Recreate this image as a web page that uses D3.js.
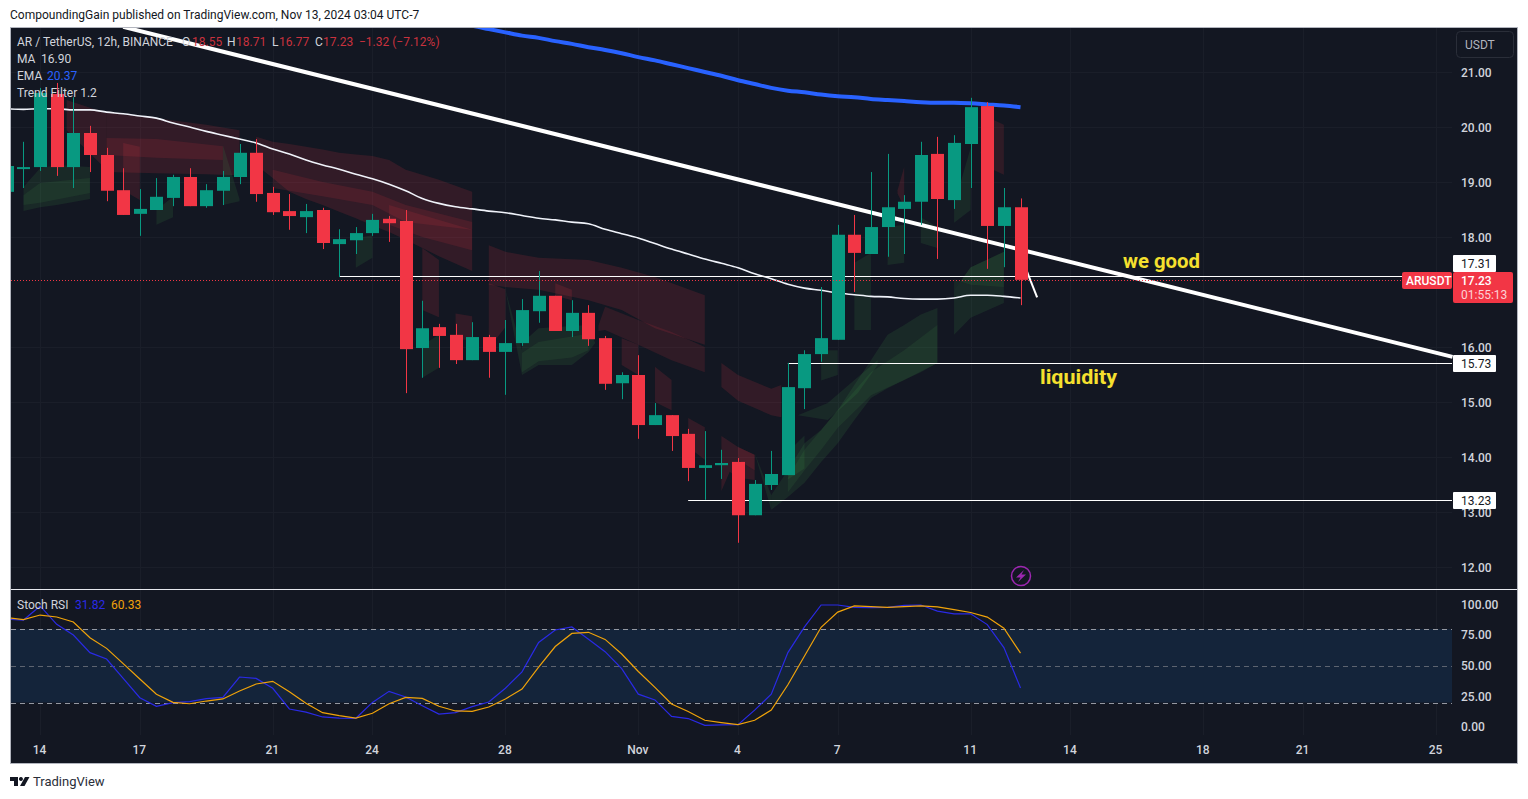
<!DOCTYPE html>
<html>
<head>
<meta charset="utf-8">
<style>
html,body{margin:0;padding:0;background:#fff;}
svg{display:block;}
text{font-family:Roboto,"Noto Sans",sans-serif;}
</style>
<script src="https://cdn.jsdelivr.net/npm/d3@7/dist/d3.min.js"></script>
</head>
<body>
<svg id="chart" width="1528" height="799"></svg>
<script>
// bar index 0 is the half hidden candle at the left edge, one bar = 12h
var opens  = [18.83,19.28,19.28,20.61,19.28,19.90,19.50,18.86,18.43,18.50,18.72,19.10,18.57,18.85,19.10,19.54,18.81,18.48,18.37,18.50,17.88,17.95,18.08,18.34,18.30,15.99,16.37,16.23,15.77,16.19,15.92,16.08,16.66,16.94,16.30,16.63,16.17,15.35,15.50,14.59,14.77,14.43,13.81,13.86,13.92,12.95,13.50,13.68,15.26,15.88,16.14,18.05,17.70,18.19,18.52,18.65,19.52,18.68,19.70,20.39,18.21,18.55]
var highs  = [19.35,19.74,20.72,20.81,20.55,20.03,19.63,19.26,18.88,19.08,19.14,19.26,18.97,19.21,19.70,19.79,18.92,18.79,18.61,18.54,18.15,18.19,18.43,18.39,18.50,16.85,16.43,16.43,16.46,16.23,16.50,16.88,17.39,16.94,16.86,16.77,16.21,15.55,15.86,14.99,14.77,14.52,14.48,14.14,13.99,13.59,14.12,15.72,15.95,17.10,18.23,18.41,19.19,19.52,18.77,19.74,19.83,19.86,20.54,20.46,18.90,18.71]
var lows   = [18.80,18.90,19.21,19.12,18.90,19.19,18.66,18.41,18.03,18.50,18.57,18.57,18.54,18.59,18.97,18.65,18.41,18.14,18.08,17.79,17.28,17.70,18.03,17.92,15.17,15.45,15.63,15.70,15.77,15.45,15.14,16.03,16.45,16.30,16.19,16.03,15.23,15.06,14.34,14.59,14.12,13.57,13.23,13.61,12.45,12.95,13.41,13.68,14.88,15.74,16.14,17.01,17.70,17.65,17.70,18.23,17.61,18.52,18.90,17.43,17.46,16.77]
var closes = [19.30,19.28,20.63,19.28,19.90,19.50,18.85,18.41,18.52,18.74,19.10,18.57,18.86,19.10,19.54,18.79,18.46,18.39,18.48,17.90,17.97,18.08,18.32,18.26,15.97,16.35,16.21,15.77,16.19,15.92,16.08,16.68,16.94,16.30,16.63,16.15,15.34,15.50,14.59,14.77,14.39,13.81,13.86,13.90,12.95,13.52,13.70,15.28,15.88,16.17,18.05,17.72,18.19,18.55,18.65,19.50,18.70,19.72,20.37,18.21,18.55,17.23]

var maValues = [20.34,20.33,20.34,20.34,20.32,20.32,20.28,20.25,20.21,20.17,20.08,20.01,19.93,19.86,19.79,19.72,19.61,19.52,19.41,19.32,19.24,19.15,19.07,18.97,18.85,18.71,18.62,18.56,18.52,18.48,18.45,18.40,18.35,18.32,18.28,18.25,18.15,18.07,17.99,17.89,17.79,17.70,17.61,17.53,17.45,17.34,17.25,17.15,17.08,17.04,16.99,16.96,16.93,16.92,16.89,16.88,16.88,16.90,16.95,16.95,16.93,16.90]
var emaStart = 27
var emaValues = [21.90,21.85,21.79,21.73,21.67,21.63,21.57,21.52,21.46,21.41,21.35,21.28,21.22,21.15,21.08,21.01,20.94,20.86,20.79,20.72,20.67,20.64,20.60,20.57,20.55,20.52,20.50,20.48,20.46,20.45,20.45,20.44,20.42,20.40,20.37]

var stochK = [87.9,87.3,98.8,83.8,75.1,60.7,55.5,39.7,23.9,16.9,19.9,20.7,23.1,24.2,40.8,39.7,31.6,14.7,12.2,8.2,7.3,7.1,20.1,29.1,24.5,17.4,10.6,11.7,16.6,20.4,31.6,45.0,69.0,79.2,81.7,71.7,61.5,47.7,26.8,22.1,8.6,6.9,1.4,1.7,1.9,13.8,26.8,60.7,81.7,99.6,99.6,97.7,97.4,97.7,99.3,99.6,94.6,92.4,92.4,83.6,64.8,31.82]
var stochD = [89.3,87.6,91.4,89.8,85.7,72.9,64.2,51.7,39.2,26.7,20.1,19.0,21.2,22.9,29.4,35.1,37.3,28.8,19.3,11.7,9.3,7.3,11.2,19.0,24.2,23.4,16.9,13.1,12.8,16.3,22.9,31.0,48.8,65.7,76.4,77.3,71.5,59.6,45.3,32.3,18.8,12.7,5.5,3.6,1.9,5.5,13.8,34.5,57.9,81.4,93.8,98.8,98.2,97.7,98.2,98.8,98.0,95.8,93.5,89.7,80.6,60.33]

var priceTicks = [12,13,14,15,16,18,19,20,21]
var stochTicks = [0,25,50,75,100]
var dateBars   = [2,8,16,22,30,38,44,50,58,64,72,78,86]
var dateLabels = ["14","17","21","24","28","Nov","4","7","11","14","18","21","25"]

// drawn levels: price, first bar
var levelPrices = [17.31,15.73,13.23]
var levelBars   = [20,47,41]
var trendBars   = [7,87]
var trendPrices = [21.83,15.83]
var arrowBars   = [61,62]
var arrowPrices = [17.68,16.91]

// trend filter ribbon, each row is bar, top, bottom
var redFaint = [
  [[3.6,20.50,19.95],[6,20.26,19.23]],
  [[6,20.28,19.19],[9,20.17,19.17],[12,20.05,19.15],[14,19.95,19.13]],
  [[7,19.72,18.86],[8,19.65,18.68]],
  [[15,19.83,19.32],[16,19.74,19.08],[17,19.70,18.83],[18,19.65,18.70],[19,19.60,18.59],[20,19.54,18.47],[21,19.51,18.35],[22,19.48,18.22],[23,19.41,18.10],[24,19.23,17.96],[26,19.05,17.66],[28,18.83,17.39]],
  [[25,17.81,16.68],[26,17.59,16.55]],
  [[27,16.62,16.14],[28,16.57,16.14]],
  [[29,17.86,17.14],[30,17.74,17.10],[32,17.63,17.05],[35,17.59,16.86],[37,17.45,16.68],[39,17.28,16.35],[42,16.95,16.05]],
  [[29,17.17,15.99],[30,17.06,16.37]],
  [[33,17.17,16.94],[34,17.05,16.86]],
  [[37,16.17,15.68],[38,16.05,15.50]],
  [[39,15.65,15.01],[40,15.41,14.86]],
  [[41,14.72,14.19],[42,14.55,13.96]],
  [[43,15.72,15.28],[44,15.50,15.03],[46,15.25,14.77],[46.6,15.32,14.73]],
  [[43,14.39,13.39],[43.5,14.29,13.74],[44,14.19,13.63],[45,14.05,13.59]],
  [[53.6,18.86,18.80],[54,19.28,18.55]]
]
var redStrong = [
  [[6,19.81,19.50],[9,19.79,19.45],[13,19.66,19.41]],
  [[16,19.23,18.90],[19,19.01,18.75],[22,18.83,18.59],[24,18.59,18.28],[28,18.28,18.14]],
  [[23,18.59,18.23],[25,18.41,18.01],[28,18.14,17.77]],
  [[35.6,16.40,16.30],[36,16.74,16.32],[38,16.50,16.05],[40,16.28,15.77],[42,16.01,15.55]],
  [[44,14.19,13.96],[45,14.05,13.77]],
  [[58.6,19.54,19.54],[59,20.19,19.28],[60,20.05,19.14]]
]
var greenFaint = [
  [[1,18.92,18.48],[2,19.26,18.55],[3,19.32,18.59],[5,19.28,18.70]],
  [[9,18.50,18.23],[10,18.74,18.37]],
  [[13,19.68,18.59],[14,18.70,18.66]],
  [[21,17.99,17.45],[22,18.04,17.63]],
  [[25,16.04,15.45],[26,16.23,15.63]],
  [[30,17.05,17.05],[31,15.95,15.50]],
  [[31,16.08,15.50],[32,16.35,15.68],[34,16.39,15.68],[35,16.41,15.92],[35.4,16.08,16.08]],
  [[45,14.08,14.08],[46,13.32,13.05]],
  [[46,13.32,13.05],[47,13.77,13.28],[48,14.26,13.54],[49,14.50,13.92],[50,14.86,14.26],[51,15.32,14.68],[52,15.77,15.08],[53,16.23,15.26],[54,16.41,15.41],[55,16.60,15.55],[56,16.72,15.72]],
  [[47.6,14.77,14.77],[49.4,14.99,14.68],[51.2,15.46,15.17],[52.4,15.77,15.68]],
  [[47,14.10,13.60],[48,14.40,13.80]],
  [[49,15.95,15.40],[50,15.95,15.50]],
  [[51,17.54,16.32],[52,17.72,16.32]],
  [[53,18.19,17.50],[54,18.23,17.54]],
  [[55,18.37,17.90],[56,18.19,17.81]],
  [[57,18.59,18.27],[58,19.63,18.50]],
  [[57,17.04,16.23],[58,17.46,16.54],[60,17.74,16.81]]
]
var greenStrong = [
  [[1,18.77,18.59],[2,18.99,18.63],[5,19.08,18.81]],
  [[31,15.90,15.55],[32,16.10,15.75],[34,16.20,15.82],[35,16.25,15.95]],
  [[47,13.63,13.37],[48,14.14,13.77],[49,14.50,14.14],[50,14.86,14.54],[52,15.55,15.13],[54,15.95,15.41],[56,16.41,15.72]],
  [[57,17.04,17.24],[58,17.46,17.14],[60,17.74,17.10]]
]

var up = "#089981", down = "#f23645", paneBg = "#131722", textCol = "#d1d4dc"
var bars = d3.range(opens.length)

var x = d3.scaleLinear().domain([0,87]).range([6.88,6.88+16.617*87])
var y = d3.scaleLinear().domain([12,21]).range([567.5,72.5])
var yStoch = d3.scaleLinear().domain([0,100]).range([727,604.5])

var svg = d3.select("#chart")

svg.append("text").attr("x",10).attr("y",19).attr("font-size",12).attr("fill","#131722")
  .text("CompoundingGain published on TradingView.com, Nov 13, 2024 03:04 UTC-7")

svg.append("rect").attr("x",10.5).attr("y",27.5).attr("width",1507).attr("height",736)
  .attr("fill",paneBg).attr("stroke","#b2b5be")

var defs = svg.append("defs")
defs.append("clipPath").attr("id","mainClip").append("rect").attr("x",11).attr("y",28).attr("width",1506).attr("height",561)
defs.append("clipPath").attr("id","stochClip").append("rect").attr("x",11).attr("y",590).attr("width",1441).attr("height",150)

var grid = svg.append("g").attr("stroke","#1a1e29").attr("stroke-width",1)
dateBars.forEach(function(b){
  grid.append("line").attr("x1",Math.round(x(b))+.5).attr("x2",Math.round(x(b))+.5).attr("y1",28).attr("y2",735)
})
priceTicks.forEach(function(p){
  grid.append("line").attr("x1",11).attr("x2",1452).attr("y1",y(p)).attr("y2",y(p))
})

// upper pane
var main = svg.append("g").attr("clip-path","url(#mainClip)")

var ribbon = d3.area().x(function(d){return x(d[0])}).y0(function(d){return y(d[2])}).y1(function(d){return y(d[1])})
function drawBands(list,col,op){
  main.append("g").selectAll("path").data(list).join("path")
    .attr("d",ribbon).attr("fill",col).attr("fill-opacity",op)
}
drawBands(redFaint,"#f23645",0.14)
drawBands(redStrong,"#f23645",0.13)
drawBands(greenFaint,"#4caf50",0.12)
drawBands(greenStrong,"#4caf50",0.1)

var ma = d3.line().x(function(d,i){return x(i)}).y(function(d){return y(d)}).curve(d3.curveMonotoneX)
main.append("path").attr("d",ma(maValues)).attr("fill","none").attr("stroke","#f0f3fa").attr("stroke-width",1.6)

var ema = d3.line().x(function(d,i){return x(i+emaStart)}).y(function(d){return y(d)}).curve(d3.curveMonotoneX)
main.append("path").attr("d",ema(emaValues)).attr("fill","none").attr("stroke","#2962ff").attr("stroke-width",4)

main.append("line").attr("x1",x(trendBars[0])).attr("y1",y(trendPrices[0])).attr("x2",x(trendBars[1])).attr("y2",y(trendPrices[1]))
  .attr("stroke","#fff").attr("stroke-width",4)
main.append("line").attr("x1",x(arrowBars[0])).attr("y1",y(arrowPrices[0])).attr("x2",x(arrowBars[1])).attr("y2",y(arrowPrices[1]))
  .attr("stroke","#fff").attr("stroke-width",2)
levelPrices.forEach(function(p,i){
  main.append("line").attr("x1",x(levelBars[i])).attr("x2",1452).attr("y1",Math.ceil(y(p))+.5).attr("y2",Math.ceil(y(p))+.5)
    .attr("stroke","#fff").attr("stroke-width",1)
})

// candles
var candle = main.append("g").selectAll("g").data(bars).join("g")
candle.append("line")
  .attr("x1",function(i){return Math.round(x(i))+.5}).attr("x2",function(i){return Math.round(x(i))+.5})
  .attr("y1",function(i){return y(highs[i])}).attr("y2",function(i){return y(lows[i])})
  .attr("stroke",function(i){return closes[i]>=opens[i]?up:down})
candle.append("rect")
  .attr("x",function(i){return Math.round(x(i))-6}).attr("width",13)
  .attr("y",function(i){return y(Math.max(opens[i],closes[i]))})
  .attr("height",function(i){return Math.max(2,Math.abs(y(opens[i])-y(closes[i])))})
  .attr("fill",function(i){return closes[i]>=opens[i]?up:down})

// last price, dotted
main.append("line").attr("x1",11).attr("x2",1402).attr("y1",Math.round(y(closes[closes.length-1]))+.5).attr("y2",Math.round(y(closes[closes.length-1]))+.5)
  .attr("stroke",down).attr("stroke-dasharray","1 2").attr("stroke-width",1)

// notes on the chart
svg.append("text").attr("x",1123).attr("y",268).attr("font-size",20).attr("font-weight",700).attr("fill","#f5e02e")
  .attr("textLength",77).attr("lengthAdjust","spacingAndGlyphs").text("we good")
svg.append("text").attr("x",1040).attr("y",384).attr("font-size",20).attr("font-weight",700).attr("fill","#f5e02e")
  .attr("textLength",77).attr("lengthAdjust","spacingAndGlyphs").text("liquidity")

// price axis
var axisP = svg.append("g").attr("transform","translate(1452,0)")
  .call(d3.axisRight(y).tickValues(priceTicks).tickSize(0).tickPadding(9).tickFormat(d3.format(".2f")))
axisP.select(".domain").remove()
axisP.selectAll("text").attr("fill",textCol).attr("font-size",12).attr("font-weight",500).style("font-family",'Roboto,sans-serif')

function tag(yy,label){
  svg.append("rect").attr("x",1453).attr("y",yy-8.5).attr("width",43).attr("height",17).attr("rx",1).attr("fill","#fff")
  svg.append("text").attr("x",1461).attr("y",yy+4).attr("font-size",12).attr("fill","#131722").text(label)
}
tag(263.5,"17.31")
tag(363.5,"15.73")
tag(500.5,"13.23")

svg.append("rect").attr("x",1453).attr("y",272).attr("width",60).attr("height",31).attr("rx",2).attr("fill",down)
svg.append("text").attr("x",1461).attr("y",285).attr("font-size",12).attr("font-weight",500).attr("fill","#fff").text("17.23")
svg.append("text").attr("x",1461).attr("y",299).attr("font-size",12).attr("fill","#fcd2d6").text("01:55:13")
svg.append("rect").attr("x",1402).attr("y",272).attr("width",50).attr("height",17).attr("rx",2).attr("fill",down)
svg.append("text").attr("x",1406).attr("y",285).attr("font-size",12).attr("font-weight",500).attr("fill","#fff").text("ARUSDT")

svg.append("rect").attr("x",1456.5).attr("y",31.5).attr("width",57).attr("height",26).attr("rx",4).attr("fill","none").attr("stroke","#2a2e39")
svg.append("text").attr("x",1465).attr("y",49).attr("font-size",12).attr("fill","#b2b5be").text("USDT")

// pane separator and stoch rsi
svg.append("line").attr("x1",11).attr("x2",1517).attr("y1",589.5).attr("y2",589.5).attr("stroke","#e6e8ee")

var stochPane = svg.append("g").attr("clip-path","url(#stochClip)")
stochPane.append("rect").attr("x",11).attr("width",1441).attr("y",yStoch(80)).attr("height",yStoch(20)-yStoch(80)).attr("fill","#14243a")
;[80,50,20].forEach(function(v){
  stochPane.append("line").attr("x1",11).attr("x2",1452).attr("y1",Math.round(yStoch(v))+.5).attr("y2",Math.round(yStoch(v))+.5)
    .attr("stroke",v==50?"#5d6470":"#9598a1").attr("stroke-dasharray","5 4")
})
var sLine = d3.line().x(function(d,i){return x(i)}).y(function(d){return yStoch(d)})
stochPane.append("path").attr("d",sLine(stochK)).attr("fill","none").attr("stroke","#2a2ae6").attr("stroke-width",1.2)
stochPane.append("path").attr("d",sLine(stochD)).attr("fill","none").attr("stroke","#f0a30a").attr("stroke-width",1.2)

var axisS = svg.append("g").attr("transform","translate(1452,0)")
  .call(d3.axisRight(yStoch).tickValues(stochTicks).tickSize(0).tickPadding(9).tickFormat(d3.format(".2f")))
axisS.select(".domain").remove()
axisS.selectAll("text").attr("fill",textCol).attr("font-size",12).attr("font-weight",500).style("font-family",'Roboto,sans-serif')

// date axis
var axisD = svg.append("g").attr("transform","translate(-1,742)")
  .call(d3.axisBottom(x).tickValues(dateBars).tickSize(0).tickPadding(3).tickFormat(function(d){return dateLabels[dateBars.indexOf(d)]}))
axisD.select(".domain").remove()
axisD.selectAll("text").attr("fill",textCol).attr("font-size",12).attr("font-weight",500).style("font-family",'Roboto,sans-serif')

// legend, parts placed one by one like the source header
function legend(yy,parts){
  parts.forEach(function(p){
    svg.append("text").attr("x",p[0]).attr("y",yy).attr("font-size",12).attr("fill",p[2]).text(p[1])
  })
}
var dimRed = "#c9323e"
legend(46,[[17,"AR / TetherUS, 12h, BINANCE",textCol],[182,"O",textCol],[192,"18.55",dimRed],[227,"H",textCol],[236,"18.71",dimRed],[272,"L",textCol],[279,"16.77",dimRed],[315,"C",textCol],[323,"17.23",dimRed],[359,"−1.32 (−7.12%)",dimRed]])
legend(63,[[17,"MA",textCol],[41,"16.90",textCol]])
legend(80,[[17,"EMA",textCol],[47,"20.37","#2962ff"]])
legend(97,[[17,"Trend Filter 1.2",textCol]])
legend(609,[[17,"Stoch RSI",textCol],[75,"31.82","#2a2ae6"],[111,"60.33","#f0a30a"]])

// alert mark
svg.append("circle").attr("cx",1021).attr("cy",576).attr("r",9.5).attr("fill","none").attr("stroke","#9c27b0").attr("stroke-width",1.5)
svg.append("path").attr("d","M1024 570L1016 577.5H1020.5L1018 582L1026 574.5H1021.5Z").attr("fill","#9c27b0")

// footer
svg.append("path").attr("d","M10 777H18V786H14V781H10ZM21 777A2 2 0 1 1 20.9 777ZM25 777H29.5L24.5 786H20Z").attr("fill","#131722")
svg.append("text").attr("x",33).attr("y",786).attr("font-size",13).attr("fill","#2a2e39").text("TradingView")
</script>
</body>
</html>
